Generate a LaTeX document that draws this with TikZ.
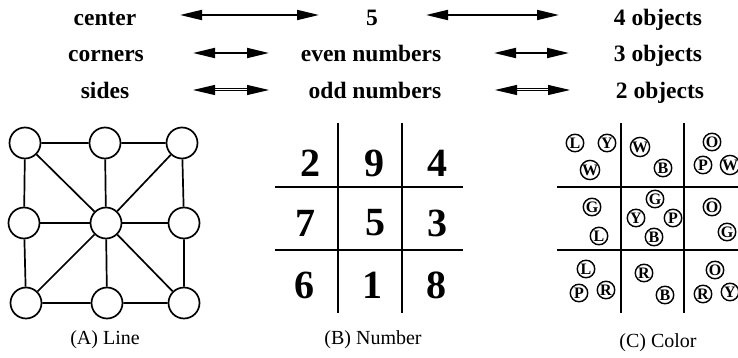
\documentclass[tikz,border=0pt]{standalone}
\usepackage{fontspec}
\setmainfont{Liberation Serif}
\usetikzlibrary{arrows.meta}
\begin{document}
\begin{tikzpicture}[x=1pt,y=-1pt,
  toptext/.style={font=\fontsize{23.5}{27}\selectfont\bfseries, anchor=base, inner sep=0},
  arr/.style={line width=1.9pt, {Triangle[length=22pt,width=10pt]}-{Triangle[length=22pt,width=10pt]}},
  dot/.style={circle, draw, line width=1.7pt, minimum size=31pt, inner sep=0},
  edgeline/.style={line width=1.7pt},
  gridline/.style={line width=2pt},
  dig/.style={font=\fontsize{40}{44}\selectfont\bfseries, inner sep=0},
  ball/.style={circle, draw, line width=1.4pt, minimum size=17.5pt, inner sep=0, font=\fontsize{16}{16}\selectfont\bfseries},
  captext/.style={font=\fontsize{20}{24}\selectfont, inner sep=0}]
\useasboundingbox (0,0) rectangle (738,358);
\clip (0,0) rectangle (738,358);

% top rows
\node[toptext] (t1a) at (105,26) {center};
\node[toptext] (t1b) at (372,26) {5};
\node[toptext] (t1c) at (658,26) {4 objects};
\node[toptext] (t2a) at (106,62) {corners};
\node[toptext] (t2b) at (371,62) {even numbers};
\node[toptext] (t2c) at (658,62) {3 objects};
\node[toptext] (t3a) at (105,99) {sides};
\node[toptext] (t3b) at (375,99) {odd numbers};
\node[toptext] (t3c) at (660,99) {2 objects};

\coordinate (a1l) at (180,15); \coordinate (a1r) at (319,15);
\coordinate (b1l) at (426,15); \coordinate (b1r) at (559,15);
\coordinate (a2l) at (193,53); \coordinate (a2r) at (269,53);
\coordinate (b2l) at (494,53); \coordinate (b2r) at (569,53);
\coordinate (a3l) at (193,90); \coordinate (a3r) at (269,90);
\coordinate (b3l) at (495,90); \coordinate (b3r) at (570,90);
\draw[arr] (a1l) -- (a1r);
\draw[arr] (b1l) -- (b1r);
\draw[arr] (a2l) -- (a2r);
\draw[arr] (b2l) -- (b2r);
\draw[arr, double, double distance=1pt, line width=1pt] (a3l) -- (a3r);
\draw[arr, double, double distance=1pt, line width=1pt] (b3l) -- (b3r);

% panel A
\node[dot] (tl) at (25,143) {};
\node[dot] (tm) at (105,143) {};
\node[dot] (tr) at (182,143) {};
\node[dot] (ml) at (24,223) {};
\node[dot] (cc) at (106,223) {};
\node[dot] (mr) at (184,223) {};
\node[dot] (bl) at (26,303) {};
\node[dot] (bm) at (107,303) {};
\node[dot] (br) at (184,303) {};
\draw[edgeline] (tl) -- (tm) -- (tr) -- (mr) -- (br) -- (bm) -- (bl) -- (ml) -- (tl);
\foreach \n in {tl,tm,tr,ml,mr,bl,bm,br} \draw[edgeline] (cc) -- (\n);
\node[captext] (capa) at (105,340) {(A) Line};

% panel B
\coordinate (bv1t) at (338,123); \coordinate (bv1b) at (338,313);
\coordinate (bv2t) at (402,123); \coordinate (bv2b) at (402,313);
\coordinate (bh1l) at (275,187); \coordinate (bh1r) at (463,187);
\coordinate (bh2l) at (275,250); \coordinate (bh2r) at (463,250);
\draw[gridline] (bv1t) -- (bv1b);
\draw[gridline] (bv2t) -- (bv2b);
\draw[gridline] (bh1l) -- (bh1r);
\draw[gridline] (bh2l) -- (bh2r);
\node[dig] (n2) at (310,163) {2};
\node[dig] (n9) at (374,163) {9};
\node[dig] (n4) at (437,163) {4};
\node[dig] (n7) at (305,223) {7};
\node[dig] (n5) at (375,223) {5};
\node[dig] (n3) at (437,223) {3};
\node[dig] (n6) at (304,285) {6};
\node[dig] (n1) at (372,285) {1};
\node[dig] (n8) at (436,285) {8};
\node[captext] (capb) at (373,340) {(B) Number};

% panel C
\coordinate (cv1t) at (621,123); \coordinate (cv1b) at (621,313);
\coordinate (cv2t) at (684,123); \coordinate (cv2b) at (684,313);
\coordinate (ch1l) at (557,187); \coordinate (ch1r) at (750,187);
\coordinate (ch2l) at (557,250); \coordinate (ch2r) at (750,250);
\draw[gridline] (cv1t) -- (cv1b);
\draw[gridline] (cv2t) -- (cv2b);
\draw[gridline] (ch1l) -- (ch1r);
\draw[gridline] (ch2l) -- (ch2r);
\node[ball] (c11l) at (575,143) {L};
\node[ball] (c11y) at (607,143) {Y};
\node[ball] (c11w) at (590,170) {W};
\node[ball] (c12w) at (640,147) {W};
\node[ball] (c12b) at (663,168) {B};
\node[ball] (c13o) at (712,142) {O};
\node[ball] (c13p) at (703,165) {P};
\node[ball] (c13w) at (730,165) {W};
\node[ball] (c21g) at (592,207) {G};
\node[ball] (c21l) at (599,236) {L};
\node[ball] (c22g) at (655,199) {G};
\node[ball] (c22y) at (636,218) {Y};
\node[ball] (c22p) at (673,218) {P};
\node[ball] (c22b) at (654,237) {B};
\node[ball] (c23o) at (712,207) {O};
\node[ball] (c23g) at (727,232) {G};
\node[ball] (c31l) at (586,269) {L};
\node[ball] (c31p) at (579,293) {P};
\node[ball] (c31r) at (606,290) {R};
\node[ball] (c32r) at (644,273) {R};
\node[ball] (c32b) at (665,295) {B};
\node[ball] (c33o) at (715,270) {O};
\node[ball] (c33r) at (703,294) {R};
\node[ball] (c33y) at (730,292) {Y};
\node[captext] (capc) at (658,343) {(C) Color};
\end{tikzpicture}
\end{document}
